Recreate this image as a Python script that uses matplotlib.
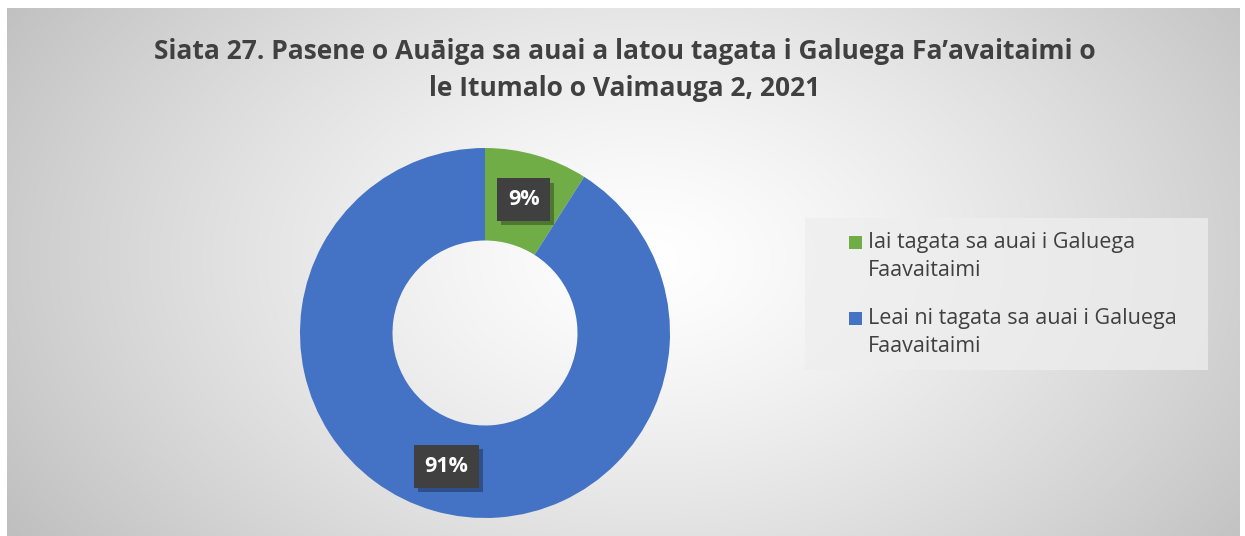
import numpy as np
import matplotlib
matplotlib.use('Agg')
import matplotlib.pyplot as plt
from matplotlib.patches import Rectangle
from matplotlib import patheffects as pe

title = 'Siata 27. Pasene o Auāiga sa auai a latou tagata i Galuega Fa\u2019avaitaimi o\nle Itumalo o Vaimauga 2, 2021'
categories = ['Iai tagata sa auai i Galuega\nFaavaitaimi',
              'Leai ni tagata sa auai i Galuega\nFaavaitaimi']
values = [9, 91]
labels = ['9%', '91%']
colors = ['#70AD47', '#4472C4']

W, H = 1245, 536
fig = plt.figure(figsize=(W / 100, H / 100), dpi=100)
fig.patch.set_facecolor('white')

# radial gradient background of the chart area
bg = fig.add_axes([7 / W, 0, (1240 - 7) / W, (536 - 8) / H], zorder=-5)
yy, xx = np.mgrid[0:528, 0:1233]
d = np.sqrt(((xx - 640) / 780.0) ** 2 + ((yy - 250) / 520.0) ** 2)
shade = 1.0 - 0.26 * np.clip(d, 0, 1.2) ** 1.3
bg.imshow(np.dstack([shade] * 3), aspect='auto', extent=(0, 1, 0, 1), origin='upper')
bg.axis('off')

fig.text(625 / W, 1 - 70 / H, title, ha='center', va='center', fontsize=19,
         fontweight='bold', color='#404040', family=['Open Sans', 'DejaVu Sans'],
         linespacing=1.45)

cx, cy, r = 485, 333, 185
ax = fig.add_axes([(cx - r) / W, (H - cy - r) / H, 2 * r / W, 2 * r / H])
wedges, _ = ax.pie(values, colors=colors, startangle=90, counterclock=False,
                   radius=1.0, wedgeprops=dict(width=0.5, edgecolor='none'))
ax.set_xlim(-1, 1)
ax.set_ylim(-1, 1)
ax.axis('off')

start = 90.0
total = float(sum(values))
for v, lab in zip(values, labels):
    mid = np.deg2rad(start - 360.0 * v / total / 2)
    start -= 360.0 * v / total
    t = ax.text(0.75 * np.cos(mid), 0.75 * np.sin(mid), lab, ha='center', va='center',
                fontsize=15.5, fontweight='bold', color='white',
                family=['Open Sans', 'DejaVu Sans'],
                bbox=dict(boxstyle='square,pad=0.5', facecolor='#404040', edgecolor='none'))
    t.get_bbox_patch().set_path_effects([
        pe.SimplePatchShadow(offset=(3, -3), shadow_rgbFace='black', alpha=0.3),
        pe.Normal()])

# legend panel, drawn by hand so the key square sits on the first text line
fig.patches.append(Rectangle((805 / W, 1 - 370 / H), 403 / W, 152 / H,
                             transform=fig.transFigure, facecolor='#eeeeee',
                             alpha=0.75, edgecolor='none', zorder=0))
row_y = [242, 318]
for c, cat, y in zip(colors, categories, row_y):
    fig.patches.append(Rectangle((849 / W, 1 - (y + 6.5) / H), 13 / W, 13 / H,
                                 transform=fig.transFigure, facecolor=c,
                                 edgecolor='none', zorder=1))
    fig.text(868 / W, 1 - (y - 10) / H, cat, ha='left', va='top', fontsize=15.5,
             color='#404040', family=['Open Sans', 'DejaVu Sans'], linespacing=1.45)

fig.savefig('out.png', dpi=100)
